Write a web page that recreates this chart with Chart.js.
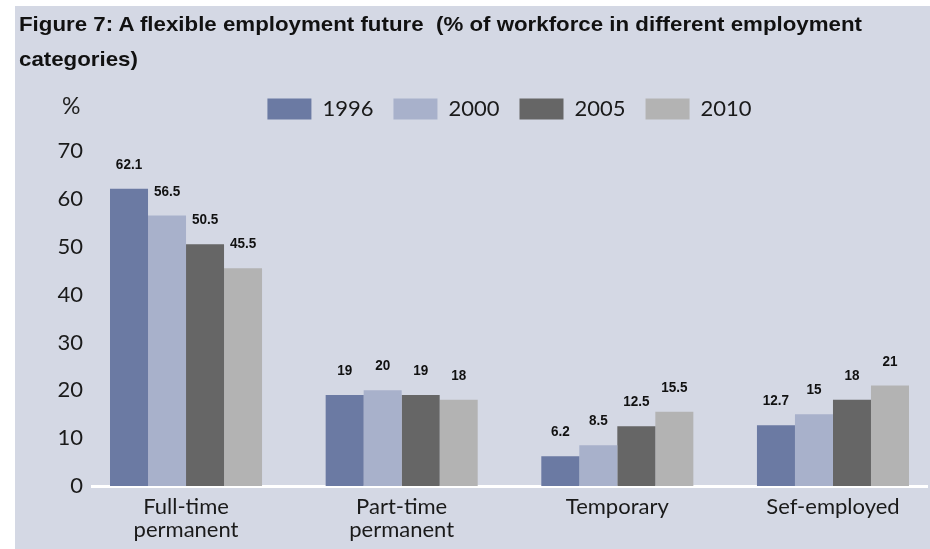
<!DOCTYPE html>
<html>
<head>
<meta charset="utf-8">
<script src="https://cdn.jsdelivr.net/npm/chart.js@4.4.1/dist/chart.umd.min.js"></script>
<style>
  html, body { margin: 0; padding: 0; background: #ffffff; }
  body { width: 930px; height: 549px; position: relative; overflow: hidden; }
  #panel { position: absolute; left: 15px; top: 6px; width: 915px; height: 543px; background: #d4d8e4; }
  #chartWrap { position: absolute; left: 0; top: 0; width: 915px; height: 543px; }
  .title { position: absolute; left: 4px; font-family: "Liberation Sans Narrow", "Liberation Sans", Arial, sans-serif;
           font-weight: bold; font-size: 21px; line-height: 21px; color: #111; white-space: nowrap; transform-origin: 0 50%; }
  #unit { position: absolute; left: 47px; top: 88px; font-family: Lato, "Open Sans", sans-serif; font-size: 23px; line-height: 23px; color: #222; }
</style>
</head>
<body>
<div id="panel">
  <div id="chartWrap"><canvas id="c" width="915" height="543"></canvas></div>
  <div class="title" id="t1" style="top:7px">Figure 7: A flexible employment future&nbsp; (% of workforce in different employment</div>
  <div class="title" id="t2" style="top:42px">categories)</div>
  <div id="unit">%</div>
</div>
<script>
// ---- data ----
const categories = [["Full-time", "permanent"], ["Part-time", "permanent"], ["Temporary"], ["Sef-employed"]];
const seriesNames = ["1996", "2000", "2005", "2010"];
const values1996 = [62.1, 19, 6.2, 12.7];
const values2000 = [56.5, 20, 8.5, 15];
const values2005 = [50.5, 19, 12.5, 18];
const values2010 = [45.5, 18, 15.5, 21];
const labels1996 = ["62.1", "19", "6.2", "12.7"];
const labels2000 = ["56.5", "20", "8.5", "15"];
const labels2005 = ["50.5", "19", "12.5", "18"];
const labels2010 = ["45.5", "18", "15.5", "21"];
const yTicks = [0, 10, 20, 30, 40, 50, 60, 70];
const colors = ["#6b7aa3", "#a8b1cb", "#666666", "#b3b3b3"];

// fit title width
(function () {
  const t1 = document.getElementById('t1');
  const t2 = document.getElementById('t2');
  const w = t1.getBoundingClientRect().width;
  const k = 843 / w;
  t1.style.transform = 'scaleX(' + k + ')';
  t2.style.transform = 'scaleX(' + k + ')';
})();

const allValues = [values1996, values2000, values2005, values2010];
const allLabels = [labels1996, labels2000, labels2005, labels2010];

const datasets = seriesNames.map((name, s) => ({
  label: name,
  data: allValues[s].map((v, i) => ({ x: i, y: v })),
  backgroundColor: colors[s],
  borderWidth: 0,
  categoryPercentage: 0.705,
  barPercentage: 1.0,
  valueText: allLabels[s]
}));

const valueLabelPlugin = {
  id: 'valueLabels',
  afterDatasetsDraw(chart) {
    const ctx = chart.ctx;
    chart.data.datasets.forEach((ds, di) => {
      const meta = chart.getDatasetMeta(di);
      meta.data.forEach((el, i) => {
        ctx.save();
        ctx.font = 'bold 15px "Liberation Sans", Arial, sans-serif';
        ctx.fillStyle = '#111111';
        ctx.textAlign = 'center';
        ctx.textBaseline = 'middle';
        ctx.translate(el.x, el.y - 24);
        ctx.scale(0.9, 1);
        ctx.fillText(ds.valueText[i], 0, 0);
        ctx.restore();
      });
    });
  }
};

const legendSpacing = {
  id: 'legendSpacing',
  beforeInit(chart) {
    const origFit = chart.legend.fit;
    chart.legend.fit = function () {
      origFit.bind(chart.legend)();
      this.height += 21;
    };
  }
};

new Chart(document.getElementById('c'), {
  type: 'bar',
  data: { datasets },
  plugins: [valueLabelPlugin, legendSpacing],
  options: {
    responsive: false,
    animation: false,
    layout: { padding: { top: 72, right: 3, left: 0, bottom: 0 } },
    plugins: {
      tooltip: { enabled: false },
      title: { display: false },
      legend: {
        display: true,
        position: 'top',
        fullSize: false,
        labels: {
          boxWidth: 44,
          boxHeight: 21,
          padding: 20,
          color: '#1a1a1a',
          font: { family: 'Lato, "Open Sans", sans-serif', size: 22 }
        }
      }
    },
    scales: {
      x: {
        type: 'linear',
        min: -0.436,
        max: 3.436,
        offset: false,
        grid: { display: false, drawTicks: false },
        border: { display: true, color: '#ffffff', width: 3 },
        afterFit(scale) { scale.height = 63; },
        afterBuildTicks(scale) { scale.ticks = categories.map((c, i) => ({ value: i })); },
        ticks: {
          autoSkip: false,
          maxRotation: 0,
          padding: 9,
          color: '#1a1a1a',
          font: { family: 'Lato, "Open Sans", sans-serif', size: 22, lineHeight: 1.05 },
          callback: (v) => categories[v]
        }
      },
      y: {
        min: 0,
        max: 70,
        grid: { display: false, drawTicks: false },
        border: { display: false },
        afterFit(scale) { scale.width = 77; },
        afterBuildTicks(scale) { scale.ticks = yTicks.map(v => ({ value: v })); },
        ticks: {
          padding: 9,
          color: '#1a1a1a',
          font: { family: 'Lato, "Open Sans", sans-serif', size: 22 }
        }
      }
    }
  }
});
</script>
</body>
</html>
